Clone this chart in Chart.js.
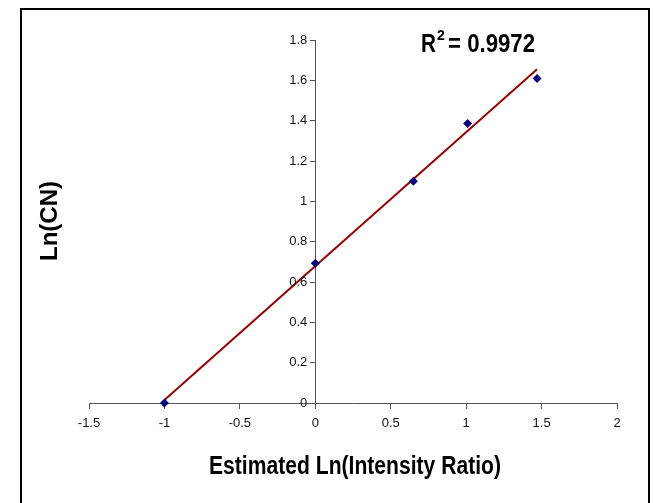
<!DOCTYPE html>
<html>
<head>
<meta charset="utf-8">
<script src="https://cdn.jsdelivr.net/npm/chart.js@4/dist/chart.umd.min.js"></script>
<style>
  html, body { margin: 0; padding: 0; background: #fff; overflow: hidden; }
  #frame { position: absolute; left: 20px; top: 8px; width: 626px; height: 520px; border: 2px solid #000; }
  #wrap { position: absolute; left: 0; top: 0; width: 654px; height: 503px; }
</style>
</head>
<body>
<div id="frame"></div>
<div id="wrap"><canvas id="chart" width="654" height="503"></canvas></div>
<script>
// measured points: ln(intensity ratio) vs ln(copy number)
var ratioX = [-1, 0, 0.65, 1.01, 1.47];
var lnCN = [0, 0.693, 1.099, 1.386, 1.609];

// linear trend line end points
var trendX = [-1, 1.47];
var trendY = [0.015, 1.655];

var xTicks = [-1.5, -1, -0.5, 0, 0.5, 1, 1.5, 2];
var yTicks = [0, 0.2, 0.4, 0.6, 0.8, 1, 1.2, 1.4, 1.6, 1.8];

var rSquared = "0.9972";
var xTitle = "Estimated Ln(Intensity Ratio)";
var yTitle = "Ln(CN)";

var pts = ratioX.map(function (x, i) { return { x: x, y: lnCN[i] }; });
var trend = trendX.map(function (x, i) { return { x: x, y: trendY[i] }; });

var fontFam = "'Liberation Sans', Arial, sans-serif";
var fmt = function (v) { return String(Math.round(v * 10) / 10); };

// y tick labels (the library puts them on the crossing axis), titles, R squared
var labelsPlugin = {
  id: "labels",
  afterDraw: function (chart) {
    var ctx = chart.ctx;
    var ys = chart.scales.y;
    var axisX = chart.scales.x.getPixelForValue(0);
    ctx.save();

    ctx.fillStyle = "#111";
    ctx.font = "13px " + fontFam;
    ctx.textAlign = "right";
    ctx.textBaseline = "middle";
    ys.ticks.forEach(function (t) {
      ctx.fillText(fmt(t.value), axisX - 8, ys.getPixelForValue(t.value));
    });

    ctx.fillStyle = "#000";
    ctx.textBaseline = "alphabetic";
    ctx.font = "bold 25px " + fontFam;
    ctx.textAlign = "center";
    ctx.fillText(xTitle, 355, 474, 292);

    ctx.save();
    ctx.translate(57, 221);
    ctx.rotate(-Math.PI / 2);
    ctx.font = "bold 24px " + fontFam;
    ctx.fillText(yTitle, 0, 0);
    ctx.restore();

    ctx.textAlign = "left";
    ctx.font = "bold 25px " + fontFam;
    ctx.fillText("R", 421, 52, 15);
    ctx.font = "bold 14px " + fontFam;
    ctx.fillText("2", 437, 40);
    ctx.font = "bold 25px " + fontFam;
    ctx.fillText("= " + rSquared, 448, 52, 87);
    ctx.restore();
  }
};

new Chart(document.getElementById("chart").getContext("2d"), {
  type: "scatter",
  data: {
    datasets: [
      {
        data: trend,
        showLine: true,
        borderColor: "#990000",
        borderWidth: 2,
        pointRadius: 0,
        clip: false,
        order: 2
      },
      {
        data: pts,
        pointStyle: "rectRot",
        pointRadius: 4.5,
        backgroundColor: "#000080",
        borderColor: "#000080",
        borderWidth: 0,
        clip: false,
        order: 1
      }
    ]
  },
  options: {
    responsive: false,
    animation: false,
    layout: { padding: { left: 89, right: 37, top: 40, bottom: 100 } },
    plugins: { legend: { display: false }, tooltip: { enabled: false } },
    scales: {
      x: {
        type: "linear",
        position: { y: 0 },
        min: -1.5,
        max: 2,
        afterBuildTicks: function (axis) { axis.ticks = xTicks.map(function (v) { return { value: v }; }); },
        grid: { drawOnChartArea: false, drawTicks: true, tickLength: 5, color: "#555" },
        border: { color: "#555", width: 1 },
        ticks: { font: { family: fontFam, size: 13 }, color: "#111", padding: 8, maxRotation: 0, callback: fmt }
      },
      y: {
        type: "linear",
        position: { x: 0 },
        min: 0,
        max: 1.8,
        afterBuildTicks: function (axis) { axis.ticks = yTicks.map(function (v) { return { value: v }; }); },
        grid: { drawOnChartArea: false, drawTicks: true, tickLength: 5, color: "#555" },
        border: { color: "#555", width: 1 },
        ticks: { display: false }
      }
    }
  },
  plugins: [labelsPlugin]
});
</script>
</body>
</html>
